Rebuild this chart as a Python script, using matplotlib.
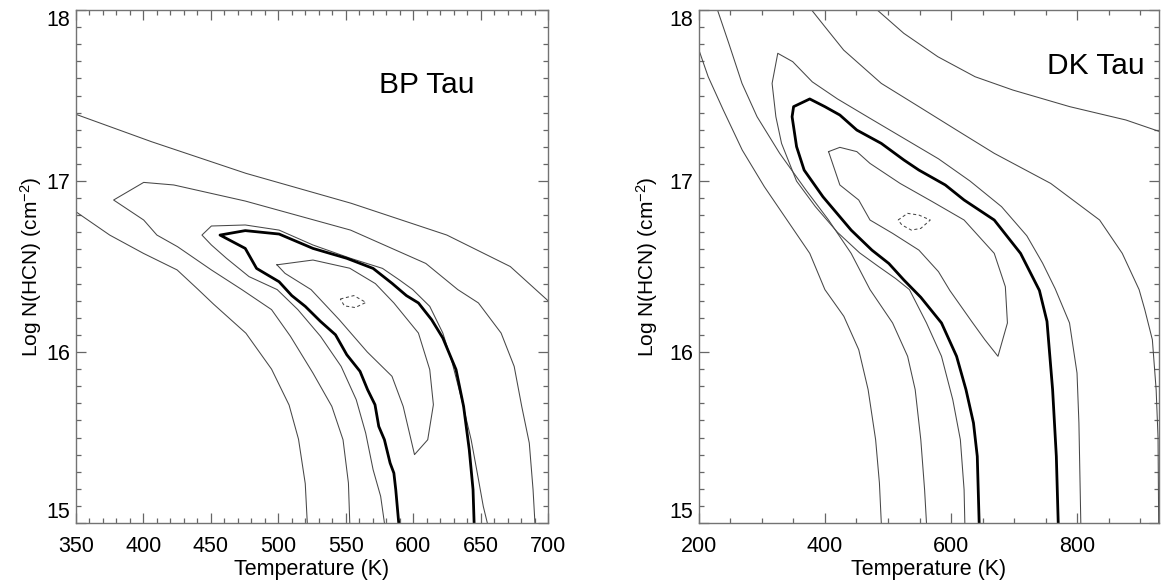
import matplotlib
matplotlib.use("Agg")
import matplotlib.pyplot as plt
from matplotlib.ticker import MultipleLocator

plt.rcParams["font.family"] = "Liberation Sans"
plt.rcParams["mathtext.fontset"] = "custom"
plt.rcParams["mathtext.rm"] = "Liberation Sans"
plt.rcParams["mathtext.it"] = "Liberation Sans:italic"

# ---- BP Tau: chi^2 contours in (T, log N) ----
bp_a_up_x = [350, 406, 476, 554, 625, 672, 700]
bp_a_up_y = [17.39, 17.23, 17.045, 16.87, 16.684, 16.50, 16.30]
bp_a_lo_x = [350, 375, 400, 425, 440, 452, 476, 495, 508, 515, 520, 521.5]
bp_a_lo_y = [16.82, 16.684, 16.577, 16.48, 16.37, 16.28, 16.11, 15.90, 15.69, 15.49, 15.23, 15.0]

bp_b_x = [553, 552, 548, 539.7, 525.7, 509, 495, 473, 450.4, 425.3, 410, 400.2, 377.9,
          400.2, 422.5, 475.5, 553.6, 609.4, 633.1, 648.4, 665.2, 674.9, 680.5, 686.1, 688.9, 690.3]
bp_b_y = [15.0, 15.234, 15.487, 15.682, 15.877, 16.092, 16.248, 16.365, 16.48, 16.616, 16.684, 16.772, 16.889,
          16.992, 16.977, 16.883, 16.713, 16.518, 16.365, 16.287, 16.111, 15.916, 15.682, 15.468, 15.195, 15.0]

bp_c_x = [578.7, 575.9, 570.3, 564.8, 557.8, 546.6, 531.3, 514.5, 499.2, 478.3, 461.6, 450.4, 443.4,
          450.4, 475.5, 500.6, 525.7, 553.6, 577.3, 589.9, 599.7, 612.3, 622, 629, 636, 643, 648, 652, 655]
bp_c_y = [15.0, 15.156, 15.312, 15.526, 15.721, 15.916, 16.092, 16.248, 16.365, 16.441, 16.548, 16.626, 16.684,
          16.737, 16.743, 16.713, 16.626, 16.548, 16.489, 16.421, 16.365, 16.267, 16.111, 15.936, 15.721,
          15.487, 15.273, 15.097, 15.0]

bp_best_x = [589.3, 587.1, 585.7, 582.9, 578.7, 574.5, 571.7, 566.2, 560.6, 550.8, 542.4, 531.3, 520, 510,
             500.6, 483.9, 475.5, 456.8,
             475.5, 500.6, 525.7, 550.8, 570.3, 584.3, 595, 603.9, 613.7, 622, 631.8, 637.4, 641.6, 644.4, 645.2]
bp_best_y = [15.0, 15.195, 15.292, 15.351, 15.487, 15.565, 15.692, 15.78, 15.887, 15.984, 16.101, 16.179,
             16.267, 16.33, 16.411, 16.489, 16.606, 16.684,
             16.71, 16.69, 16.606, 16.548, 16.489, 16.402, 16.33, 16.287, 16.189, 16.082, 15.897, 15.682,
             15.429, 15.195, 15.0]

bp_e_x = [499, 525.7, 553, 572, 585.7, 603.9, 612.3, 615, 610.8, 601, 592.6, 584.3, 566, 545.2, 524.3, 505, 499]
bp_e_y = [16.51, 16.538, 16.49, 16.40, 16.287, 16.111, 15.897, 15.692, 15.487, 15.40, 15.682, 15.858,
          16.0, 16.189, 16.365, 16.46, 16.51]

bp_min_x = [546, 556, 565, 557, 549, 546]
bp_min_y = [16.31, 16.33, 16.29, 16.26, 16.27, 16.31]

# ---- DK Tau ----
dk_a_x = [483, 525, 579, 638, 698, 788, 877, 930]
dk_a_y = [18.0, 17.864, 17.727, 17.61, 17.532, 17.435, 17.357, 17.29]

dk_b1_x = [200, 215, 239, 269, 304, 340, 376, 400, 430, 453.6, 468.5, 480.4, 486.4, 489.4]
dk_b1_y = [17.77, 17.61, 17.415, 17.181, 16.967, 16.772, 16.577, 16.365, 16.209, 16.014, 15.78, 15.487,
           15.234, 15.0]

dk_b2l_x = [229.8, 247.7, 268.6, 292.5, 328.3, 370, 405.8, 441.6, 471.5, 507.3, 531.1, 543.1, 552, 558, 561]
dk_b2l_y = [18.0, 17.805, 17.571, 17.376, 17.162, 16.947, 16.772, 16.577, 16.365, 16.17, 15.975, 15.78,
            15.487, 15.195, 15.0]
dk_b2r_x = [379, 399.9, 429.7, 489.4, 549, 608.7, 668.4, 757.9, 835.4, 871.3, 898, 907, 919, 925, 928, 929]
dk_b2r_y = [18.0, 17.903, 17.766, 17.571, 17.435, 17.298, 17.162, 16.986, 16.772, 16.577, 16.365, 16.248,
            16.072, 15.78, 15.5, 15.0]

dk_c_x = [621.8, 620.6, 614.7, 602.7, 584.8, 561, 534, 512, 485, 455, 420, 385, 355, 331.3, 322.3, 316.3,
          325.3,
          349, 380, 420, 470, 525, 580, 630, 680, 720, 745, 765, 787.7, 799.6, 802.6, 805.6]
dk_c_y = [15.0, 15.195, 15.487, 15.721, 15.975, 16.17, 16.365, 16.43, 16.5, 16.58, 16.7, 16.85, 17.0,
          17.22, 17.376, 17.571, 17.747,
          17.698, 17.58, 17.48, 17.37, 17.25, 17.13, 17.0, 16.85, 16.68, 16.52, 16.37, 16.17, 15.877,
          15.585, 15.0]

dk_best_x = [644.5, 641.5, 635.5, 623.6, 608.7, 584.8, 552, 525.2, 501.3, 474.5, 441.6, 423.7, 396.9, 367.1,
             355.1, 348, 350.4, 376, 399.9, 423.7, 450.6, 489.4, 525.2, 549, 590.8, 620.6, 668.4, 710.1,
             740, 752, 760.9, 766.8, 769.8]
dk_best_y = [15.0, 15.39, 15.585, 15.78, 15.975, 16.17, 16.32, 16.421, 16.518, 16.596, 16.713, 16.791,
             16.908, 17.064, 17.201, 17.376, 17.435, 17.48, 17.435, 17.386, 17.298, 17.22, 17.123, 17.064,
             16.977, 16.889, 16.772, 16.577, 16.36, 16.179, 15.78, 15.39, 15.0]

dk_e_x = [405.8, 423.7, 450.6, 471.5, 519.2, 570, 620.6, 668.4, 686, 689.3, 674.3, 653.5, 632.6, 598,
          580, 549, 507.3, 471.5, 453.6, 423.7, 405.8]
dk_e_y = [17.172, 17.197, 17.172, 17.103, 16.986, 16.88, 16.772, 16.577, 16.382, 16.17, 15.975, 16.072,
          16.179, 16.36, 16.47, 16.596, 16.694, 16.772, 16.889, 16.977, 17.172]

dk_min_x = [516, 531, 549, 567, 552, 537, 522, 516]
dk_min_y = [16.772, 16.811, 16.801, 16.772, 16.723, 16.713, 16.743, 16.772]

THIN = dict(color="0.28", lw=0.75)
THICK = dict(color="black", lw=2.0)
DASH = dict(color="0.28", lw=0.75, ls=(0, (3, 2.5)))


def style_axes(ax, xlim, xmajor, xminor, name, name_xy):
    ax.set_xlim(*xlim)
    ax.set_ylim(15, 18)
    ax.xaxis.set_major_locator(MultipleLocator(xmajor))
    ax.xaxis.set_minor_locator(MultipleLocator(xminor))
    ax.set_yticks([15, 16, 17, 18])
    ax.yaxis.set_minor_locator(MultipleLocator(0.1))
    ax.tick_params(which="both", direction="in", top=True, right=True,
                   color="0.4", width=0.9, labelsize=15.5)
    ax.tick_params(which="major", length=7.5)
    ax.tick_params(which="minor", length=3.8)
    ax.tick_params(axis="x", pad=9)
    ax.tick_params(axis="y", pad=4)
    for s in ax.spines.values():
        s.set_color("0.45")
        s.set_linewidth(1.0)
    yt = ax.yaxis.get_major_ticks()
    yt[0].label1.set_va("bottom")
    yt[-1].label1.set_va("top")
    ax.set_xlabel("Temperature (K)", fontsize=15.5, labelpad=2)
    ax.set_ylabel(r"Log N(HCN) (cm$^{-2}$)", fontsize=15)
    ax.text(*name_xy, name, fontsize=21.5, ha="left", va="center")


fig = plt.figure(figsize=(11.69, 5.87), dpi=100)
ax1 = fig.add_axes([0.0650, 0.1090, 0.4038, 0.8739])
ax2 = fig.add_axes([0.5977, 0.1090, 0.3940, 0.8739])

for x, y in [(bp_a_up_x, bp_a_up_y), (bp_a_lo_x, bp_a_lo_y), (bp_b_x, bp_b_y),
             (bp_c_x, bp_c_y), (bp_e_x, bp_e_y)]:
    ax1.plot(x, y, **THIN)
ax1.plot(bp_best_x, bp_best_y, **THICK)
ax1.plot(bp_min_x, bp_min_y, **DASH)
style_axes(ax1, (350, 700), 50, 10, "BP Tau", (575, 17.56))
ax1.yaxis.set_label_coords(-0.068, 0.5)

for x, y in [(dk_a_x, dk_a_y), (dk_b1_x, dk_b1_y), (dk_b2l_x, dk_b2l_y), (dk_b2r_x, dk_b2r_y),
             (dk_c_x, dk_c_y), (dk_e_x, dk_e_y)]:
    ax2.plot(x, y, **THIN)
ax2.plot(dk_best_x, dk_best_y, **THICK)
ax2.plot(dk_min_x, dk_min_y, **DASH)
style_axes(ax2, (200, 930), 200, 50, "DK Tau", (752, 17.67))
ax2.yaxis.set_label_coords(-0.085, 0.5)

fig.savefig("out.png", dpi=100)
